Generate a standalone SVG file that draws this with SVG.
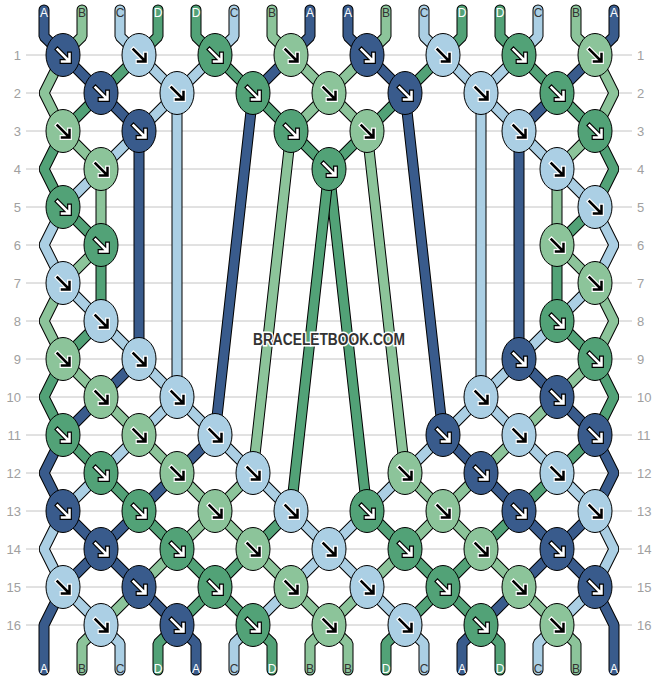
<svg xmlns="http://www.w3.org/2000/svg" xmlns:xlink="http://www.w3.org/1999/xlink" width="658" height="680" viewBox="0 0 658 680">
<style>
text{font-family:"Liberation Sans",Arial,sans-serif}
.ln{fill:none;stroke:#c4c4c4;stroke-width:1}
.rl{font-size:13px;fill:#a0a0a0}
.rl.l{text-anchor:end}
.o{fill:none;stroke:#000;stroke-width:11;stroke-linejoin:bevel;stroke-linecap:round}
.c{fill:none;stroke-width:9;stroke-linejoin:bevel;stroke-linecap:round}
.sA{stroke:#395b8c}.sB{stroke:#8cc49a}.sC{stroke:#abcfe4}.sD{stroke:#52a277}
ellipse{stroke:#000;stroke-width:1}
.kA{fill:#395b8c}.kB{fill:#8cc49a}.kC{fill:#abcfe4}.kD{fill:#52a277}
.lb{font-size:12px;text-anchor:middle}
.lw{fill:#fff}.ld{fill:#333}
</style>
<defs>
<g id="aw"><path d="M-5.5-5.5L5.5 5.5M6.5-1V6.5H-1" fill="none" stroke="#000" stroke-width="4.8" stroke-linecap="square"/><path d="M-5.5-5.5L5.5 5.5M6.5-1V6.5H-1" fill="none" stroke="#fff" stroke-width="2.5" stroke-linecap="square"/></g>
<g id="ab"><path d="M-5.5-5.5L5.5 5.5M6.5-1V6.5H-1" fill="none" stroke="#fff" stroke-width="4.8" stroke-linecap="square"/><path d="M-5.5-5.5L5.5 5.5M6.5-1V6.5H-1" fill="none" stroke="#000" stroke-width="2.5" stroke-linecap="square"/></g>
<path id="s0" d="M44 10V36.5L63 55L101 93L139 131V359L101 397L63 435L44 473L63 511L101 549L139 587L177 625L196 643.5V670"/>
<path id="s1" d="M82 10V36.5L63 55L44 93L63 131L101 169V245L63 283L44 321L63 359L101 397L139 435L177 473L215 511L253 549L291 587L329 625L348 643.5V670"/>
<path id="s2" d="M120 10V36.5L139 55L177 93V397L139 435L101 473L63 511L44 549L63 587L101 625L120 643.5V670"/>
<path id="s3" d="M158 10V36.5L139 55L101 93L63 131L44 169L63 207L101 245V321L63 359L44 397L63 435L101 473L139 511L177 549L215 587L253 625L272 643.5V670"/>
<path id="s4" d="M196 10V36.5L215 55L253 93L291 131L329 169L367 511L405 549L443 587L481 625L500 643.5V670"/>
<path id="s5" d="M234 10V36.5L215 55L177 93L139 131L101 169L63 207L44 245L63 283L101 321L139 359L177 397L215 435L253 473L291 511L329 549L367 587L405 625L424 643.5V670"/>
<path id="s6" d="M272 10V36.5L291 55L329 93L367 131L405 473L443 511L481 549L519 587L557 625L576 643.5V670"/>
<path id="s7" d="M310 10V36.5L291 55L253 93L215 435L177 473L139 511L101 549L63 587L44 625V670"/>
<path id="s8" d="M348 10V36.5L367 55L405 93L443 435L481 473L519 511L557 549L595 587L614 625V670"/>
<path id="s9" d="M386 10V36.5L367 55L329 93L291 131L253 473L215 511L177 549L139 587L101 625L82 643.5V670"/>
<path id="s10" d="M424 10V36.5L443 55L481 93L519 131L557 169L595 207L614 245L595 283L557 321L519 359L481 397L443 435L405 473L367 511L329 549L291 587L253 625L234 643.5V670"/>
<path id="s11" d="M462 10V36.5L443 55L405 93L367 131L329 169L291 511L253 549L215 587L177 625L158 643.5V670"/>
<path id="s12" d="M500 10V36.5L519 55L557 93L595 131L614 169L595 207L557 245V321L595 359L614 397L595 435L557 473L519 511L481 549L443 587L405 625L386 643.5V670"/>
<path id="s13" d="M538 10V36.5L519 55L481 93V397L519 435L557 473L595 511L614 549L595 587L557 625L538 643.5V670"/>
<path id="s14" d="M576 10V36.5L595 55L614 93L595 131L557 169V245L595 283L614 321L595 359L557 397L519 435L481 473L443 511L405 549L367 587L329 625L310 643.5V670"/>
<path id="s15" d="M614 10V36.5L595 55L557 93L519 131V359L557 397L595 435L614 473L595 511L557 549L519 587L481 625L462 643.5V670"/>
</defs>
<rect width="658" height="680" fill="#fff"/>
<g id="grid">
<path class="ln" d="M26 55H632M26 93H632M26 131H632M26 169H632M26 207H632M26 245H632M26 283H632M26 321H632M26 359H632M26 397H632M26 435H632M26 473H632M26 511H632M26 549H632M26 587H632M26 625H632"/>
<g class="rl l">
<text x="21" y="59.6">1</text><text x="21" y="97.6">2</text><text x="21" y="135.6">3</text><text x="21" y="173.6">4</text><text x="21" y="211.6">5</text><text x="21" y="249.6">6</text><text x="21" y="287.6">7</text><text x="21" y="325.6">8</text><text x="21" y="363.6">9</text><text x="21" y="401.6">10</text><text x="21" y="439.6">11</text><text x="21" y="477.6">12</text><text x="21" y="515.6">13</text><text x="21" y="553.6">14</text><text x="21" y="591.6">15</text><text x="21" y="629.6">16</text>
</g>
<g class="rl">
<text x="637" y="59.6">1</text><text x="637" y="97.6">2</text><text x="637" y="135.6">3</text><text x="637" y="173.6">4</text><text x="637" y="211.6">5</text><text x="637" y="249.6">6</text><text x="637" y="287.6">7</text><text x="637" y="325.6">8</text><text x="637" y="363.6">9</text><text x="637" y="401.6">10</text><text x="637" y="439.6">11</text><text x="637" y="477.6">12</text><text x="637" y="515.6">13</text><text x="637" y="553.6">14</text><text x="637" y="591.6">15</text><text x="637" y="629.6">16</text>
</g>
</g>
<g id="connectors">
<use href="#s0" class="o"/><use href="#s0" class="c sA"/>
<use href="#s1" class="o"/><use href="#s1" class="c sB"/>
<use href="#s2" class="o"/><use href="#s2" class="c sC"/>
<use href="#s3" class="o"/><use href="#s3" class="c sD"/>
<use href="#s4" class="o"/><use href="#s4" class="c sD"/>
<use href="#s5" class="o"/><use href="#s5" class="c sC"/>
<use href="#s6" class="o"/><use href="#s6" class="c sB"/>
<use href="#s7" class="o"/><use href="#s7" class="c sA"/>
<use href="#s8" class="o"/><use href="#s8" class="c sA"/>
<use href="#s9" class="o"/><use href="#s9" class="c sB"/>
<use href="#s10" class="o"/><use href="#s10" class="c sC"/>
<use href="#s11" class="o"/><use href="#s11" class="c sD"/>
<use href="#s12" class="o"/><use href="#s12" class="c sD"/>
<use href="#s13" class="o"/><use href="#s13" class="c sC"/>
<use href="#s14" class="o"/><use href="#s14" class="c sB"/>
<use href="#s15" class="o"/><use href="#s15" class="c sA"/>
</g>
<g id="strand-labels" class="lb">
<text class="lw" x="44" y="16.8">A</text><text class="ld" x="82" y="16.8">B</text><text class="ld" x="120" y="16.8">C</text><text class="lw" x="158" y="16.8">D</text><text class="lw" x="196" y="16.8">D</text><text class="ld" x="234" y="16.8">C</text><text class="ld" x="272" y="16.8">B</text><text class="lw" x="310" y="16.8">A</text><text class="lw" x="348" y="16.8">A</text><text class="ld" x="386" y="16.8">B</text><text class="ld" x="424" y="16.8">C</text><text class="lw" x="462" y="16.8">D</text><text class="lw" x="500" y="16.8">D</text><text class="ld" x="538" y="16.8">C</text><text class="ld" x="576" y="16.8">B</text><text class="lw" x="614" y="16.8">A</text>
<text class="lw" x="44" y="672.5">A</text><text class="ld" x="82" y="672.5">B</text><text class="ld" x="120" y="672.5">C</text><text class="lw" x="158" y="672.5">D</text><text class="lw" x="196" y="672.5">A</text><text class="ld" x="234" y="672.5">C</text><text class="lw" x="272" y="672.5">D</text><text class="ld" x="310" y="672.5">B</text><text class="ld" x="348" y="672.5">B</text><text class="lw" x="386" y="672.5">D</text><text class="ld" x="424" y="672.5">C</text><text class="lw" x="462" y="672.5">A</text><text class="lw" x="500" y="672.5">D</text><text class="ld" x="538" y="672.5">C</text><text class="ld" x="576" y="672.5">B</text><text class="lw" x="614" y="672.5">A</text>
</g>
<g id="knots">
<g id="k1_1" transform="translate(63 55)"><ellipse class="kA" rx="17" ry="21.5"/><use href="#aw"/></g>
<g id="k1_2" transform="translate(139 55)"><ellipse class="kC" rx="17" ry="21.5"/><use href="#ab"/></g>
<g id="k1_3" transform="translate(215 55)"><ellipse class="kD" rx="17" ry="21.5"/><use href="#aw"/></g>
<g id="k1_4" transform="translate(291 55)"><ellipse class="kB" rx="17" ry="21.5"/><use href="#ab"/></g>
<g id="k1_5" transform="translate(367 55)"><ellipse class="kA" rx="17" ry="21.5"/><use href="#aw"/></g>
<g id="k1_6" transform="translate(443 55)"><ellipse class="kC" rx="17" ry="21.5"/><use href="#ab"/></g>
<g id="k1_7" transform="translate(519 55)"><ellipse class="kD" rx="17" ry="21.5"/><use href="#aw"/></g>
<g id="k1_8" transform="translate(595 55)"><ellipse class="kB" rx="17" ry="21.5"/><use href="#ab"/></g>
<g id="k2_1" transform="translate(101 93)"><ellipse class="kA" rx="17" ry="21.5"/><use href="#aw"/></g>
<g id="k2_2" transform="translate(177 93)"><ellipse class="kC" rx="17" ry="21.5"/><use href="#ab"/></g>
<g id="k2_3" transform="translate(253 93)"><ellipse class="kD" rx="17" ry="21.5"/><use href="#aw"/></g>
<g id="k2_4" transform="translate(329 93)"><ellipse class="kB" rx="17" ry="21.5"/><use href="#ab"/></g>
<g id="k2_5" transform="translate(405 93)"><ellipse class="kA" rx="17" ry="21.5"/><use href="#aw"/></g>
<g id="k2_6" transform="translate(481 93)"><ellipse class="kC" rx="17" ry="21.5"/><use href="#ab"/></g>
<g id="k2_7" transform="translate(557 93)"><ellipse class="kD" rx="17" ry="21.5"/><use href="#aw"/></g>
<g id="k3_1" transform="translate(63 131)"><ellipse class="kB" rx="17" ry="21.5"/><use href="#ab"/></g>
<g id="k3_2" transform="translate(139 131)"><ellipse class="kA" rx="17" ry="21.5"/><use href="#aw"/></g>
<g id="k3_4" transform="translate(291 131)"><ellipse class="kD" rx="17" ry="21.5"/><use href="#aw"/></g>
<g id="k3_5" transform="translate(367 131)"><ellipse class="kB" rx="17" ry="21.5"/><use href="#ab"/></g>
<g id="k3_7" transform="translate(519 131)"><ellipse class="kC" rx="17" ry="21.5"/><use href="#ab"/></g>
<g id="k3_8" transform="translate(595 131)"><ellipse class="kD" rx="17" ry="21.5"/><use href="#aw"/></g>
<g id="k4_1" transform="translate(101 169)"><ellipse class="kB" rx="17" ry="21.5"/><use href="#ab"/></g>
<g id="k4_4" transform="translate(329 169)"><ellipse class="kD" rx="17" ry="21.5"/><use href="#aw"/></g>
<g id="k4_7" transform="translate(557 169)"><ellipse class="kC" rx="17" ry="21.5"/><use href="#ab"/></g>
<g id="k5_1" transform="translate(63 207)"><ellipse class="kD" rx="17" ry="21.5"/><use href="#aw"/></g>
<g id="k5_8" transform="translate(595 207)"><ellipse class="kC" rx="17" ry="21.5"/><use href="#ab"/></g>
<g id="k6_1" transform="translate(101 245)"><ellipse class="kD" rx="17" ry="21.5"/><use href="#aw"/></g>
<g id="k6_7" transform="translate(557 245)"><ellipse class="kB" rx="17" ry="21.5"/><use href="#ab"/></g>
<g id="k7_1" transform="translate(63 283)"><ellipse class="kC" rx="17" ry="21.5"/><use href="#ab"/></g>
<g id="k7_8" transform="translate(595 283)"><ellipse class="kB" rx="17" ry="21.5"/><use href="#ab"/></g>
<g id="k8_1" transform="translate(101 321)"><ellipse class="kC" rx="17" ry="21.5"/><use href="#ab"/></g>
<g id="k8_7" transform="translate(557 321)"><ellipse class="kD" rx="17" ry="21.5"/><use href="#aw"/></g>
<g id="k9_1" transform="translate(63 359)"><ellipse class="kB" rx="17" ry="21.5"/><use href="#ab"/></g>
<g id="k9_2" transform="translate(139 359)"><ellipse class="kC" rx="17" ry="21.5"/><use href="#ab"/></g>
<g id="k9_7" transform="translate(519 359)"><ellipse class="kA" rx="17" ry="21.5"/><use href="#aw"/></g>
<g id="k9_8" transform="translate(595 359)"><ellipse class="kD" rx="17" ry="21.5"/><use href="#aw"/></g>
<g id="k10_1" transform="translate(101 397)"><ellipse class="kB" rx="17" ry="21.5"/><use href="#ab"/></g>
<g id="k10_2" transform="translate(177 397)"><ellipse class="kC" rx="17" ry="21.5"/><use href="#ab"/></g>
<g id="k10_6" transform="translate(481 397)"><ellipse class="kC" rx="17" ry="21.5"/><use href="#ab"/></g>
<g id="k10_7" transform="translate(557 397)"><ellipse class="kA" rx="17" ry="21.5"/><use href="#aw"/></g>
<g id="k11_1" transform="translate(63 435)"><ellipse class="kD" rx="17" ry="21.5"/><use href="#aw"/></g>
<g id="k11_2" transform="translate(139 435)"><ellipse class="kB" rx="17" ry="21.5"/><use href="#ab"/></g>
<g id="k11_3" transform="translate(215 435)"><ellipse class="kC" rx="17" ry="21.5"/><use href="#ab"/></g>
<g id="k11_6" transform="translate(443 435)"><ellipse class="kA" rx="17" ry="21.5"/><use href="#aw"/></g>
<g id="k11_7" transform="translate(519 435)"><ellipse class="kC" rx="17" ry="21.5"/><use href="#ab"/></g>
<g id="k11_8" transform="translate(595 435)"><ellipse class="kA" rx="17" ry="21.5"/><use href="#aw"/></g>
<g id="k12_1" transform="translate(101 473)"><ellipse class="kD" rx="17" ry="21.5"/><use href="#aw"/></g>
<g id="k12_2" transform="translate(177 473)"><ellipse class="kB" rx="17" ry="21.5"/><use href="#ab"/></g>
<g id="k12_3" transform="translate(253 473)"><ellipse class="kC" rx="17" ry="21.5"/><use href="#ab"/></g>
<g id="k12_5" transform="translate(405 473)"><ellipse class="kB" rx="17" ry="21.5"/><use href="#ab"/></g>
<g id="k12_6" transform="translate(481 473)"><ellipse class="kA" rx="17" ry="21.5"/><use href="#aw"/></g>
<g id="k12_7" transform="translate(557 473)"><ellipse class="kC" rx="17" ry="21.5"/><use href="#ab"/></g>
<g id="k13_1" transform="translate(63 511)"><ellipse class="kA" rx="17" ry="21.5"/><use href="#aw"/></g>
<g id="k13_2" transform="translate(139 511)"><ellipse class="kD" rx="17" ry="21.5"/><use href="#aw"/></g>
<g id="k13_3" transform="translate(215 511)"><ellipse class="kB" rx="17" ry="21.5"/><use href="#ab"/></g>
<g id="k13_4" transform="translate(291 511)"><ellipse class="kC" rx="17" ry="21.5"/><use href="#ab"/></g>
<g id="k13_5" transform="translate(367 511)"><ellipse class="kD" rx="17" ry="21.5"/><use href="#aw"/></g>
<g id="k13_6" transform="translate(443 511)"><ellipse class="kB" rx="17" ry="21.5"/><use href="#ab"/></g>
<g id="k13_7" transform="translate(519 511)"><ellipse class="kA" rx="17" ry="21.5"/><use href="#aw"/></g>
<g id="k13_8" transform="translate(595 511)"><ellipse class="kC" rx="17" ry="21.5"/><use href="#ab"/></g>
<g id="k14_1" transform="translate(101 549)"><ellipse class="kA" rx="17" ry="21.5"/><use href="#aw"/></g>
<g id="k14_2" transform="translate(177 549)"><ellipse class="kD" rx="17" ry="21.5"/><use href="#aw"/></g>
<g id="k14_3" transform="translate(253 549)"><ellipse class="kB" rx="17" ry="21.5"/><use href="#ab"/></g>
<g id="k14_4" transform="translate(329 549)"><ellipse class="kC" rx="17" ry="21.5"/><use href="#ab"/></g>
<g id="k14_5" transform="translate(405 549)"><ellipse class="kD" rx="17" ry="21.5"/><use href="#aw"/></g>
<g id="k14_6" transform="translate(481 549)"><ellipse class="kB" rx="17" ry="21.5"/><use href="#ab"/></g>
<g id="k14_7" transform="translate(557 549)"><ellipse class="kA" rx="17" ry="21.5"/><use href="#aw"/></g>
<g id="k15_1" transform="translate(63 587)"><ellipse class="kC" rx="17" ry="21.5"/><use href="#ab"/></g>
<g id="k15_2" transform="translate(139 587)"><ellipse class="kA" rx="17" ry="21.5"/><use href="#aw"/></g>
<g id="k15_3" transform="translate(215 587)"><ellipse class="kD" rx="17" ry="21.5"/><use href="#aw"/></g>
<g id="k15_4" transform="translate(291 587)"><ellipse class="kB" rx="17" ry="21.5"/><use href="#ab"/></g>
<g id="k15_5" transform="translate(367 587)"><ellipse class="kC" rx="17" ry="21.5"/><use href="#ab"/></g>
<g id="k15_6" transform="translate(443 587)"><ellipse class="kD" rx="17" ry="21.5"/><use href="#aw"/></g>
<g id="k15_7" transform="translate(519 587)"><ellipse class="kB" rx="17" ry="21.5"/><use href="#ab"/></g>
<g id="k15_8" transform="translate(595 587)"><ellipse class="kA" rx="17" ry="21.5"/><use href="#aw"/></g>
<g id="k16_1" transform="translate(101 625)"><ellipse class="kC" rx="17" ry="21.5"/><use href="#ab"/></g>
<g id="k16_2" transform="translate(177 625)"><ellipse class="kA" rx="17" ry="21.5"/><use href="#aw"/></g>
<g id="k16_3" transform="translate(253 625)"><ellipse class="kD" rx="17" ry="21.5"/><use href="#aw"/></g>
<g id="k16_4" transform="translate(329 625)"><ellipse class="kB" rx="17" ry="21.5"/><use href="#ab"/></g>
<g id="k16_5" transform="translate(405 625)"><ellipse class="kC" rx="17" ry="21.5"/><use href="#ab"/></g>
<g id="k16_6" transform="translate(481 625)"><ellipse class="kD" rx="17" ry="21.5"/><use href="#aw"/></g>
<g id="k16_7" transform="translate(557 625)"><ellipse class="kB" rx="17" ry="21.5"/><use href="#ab"/></g>
</g>
<text id="watermark" x="329" y="345" text-anchor="middle" font-weight="bold" font-size="16" textLength="152" lengthAdjust="spacingAndGlyphs" fill="#333" stroke="#fff" stroke-width="3" paint-order="stroke">BRACELETBOOK.COM</text>
</svg>
